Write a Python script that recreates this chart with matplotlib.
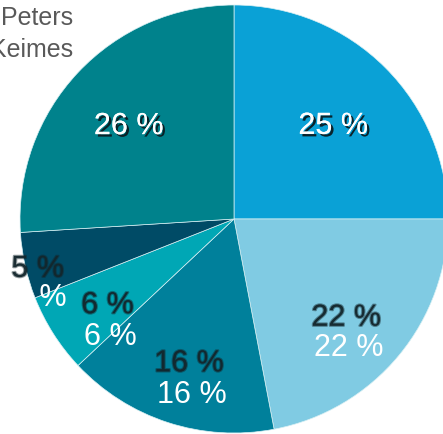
import numpy as np
import matplotlib
matplotlib.use("Agg")
import matplotlib.pyplot as plt
import matplotlib.patheffects as pe

plt.rcParams['font.family'] = ['Liberation Sans', 'DejaVu Sans']

# datos del gráfico (sentido horario desde arriba)
valores = [25, 22, 16, 6, 5, 26]
etiquetas = [f"{v} %" for v in valores]
colores = ["#0AA1D6", "#80CBE3", "#00809B", "#00A7B5", "#004B66", "#00828C"]
titulo = ["Peters", "Keimes"]

fig = plt.figure(figsize=(4.43, 4.35), dpi=100)
ax = fig.add_axes([0, 0, 1, 1])

cx, cy, R = 234, 215, 214
wedges, _ = ax.pie(valores, colors=colores, startangle=90, counterclock=False,
                   center=(cx, cy), radius=R, frame=True,
                   wedgeprops=dict(edgecolor="#d8f0f4", linewidth=0.5))
ax.set_xlim(0, 443)
ax.set_ylim(0, 435)
ax.set_aspect("equal")
ax.axis("off")

# radio de la etiqueta (fracción de R) y caída del texto blanco en px
radios = [0.655, 0.68, 0.68, 0.70, 0.94, 0.675]
caida = [0, 29, 31, 31, 28, 0]
sombra = [pe.withSimplePatchShadow(offset=(1.8, -1.8), shadow_rgbFace="#0b1c22", alpha=0.95), pe.Normal()]

for w, txt, r, d in zip(wedges, etiquetas, radios, caida):
    ang = np.deg2rad((w.theta1 + w.theta2) / 2)
    x = cx + r * R * np.cos(ang)
    y = cy + r * R * np.sin(ang) - 14
    if d == 0:
        ax.text(x, y, txt, color="white", fontsize=22, ha="center", va="baseline",
                path_effects=sombra)
    else:
        ax.text(x, y, txt, color="#13262c", alpha=0.9, fontsize=22, ha="center", va="baseline",
                path_effects=[pe.withStroke(linewidth=1.6, foreground="#13262c", alpha=0.45)])
        ax.text(x + 3, y - d, txt, color="white", fontsize=22, ha="center", va="baseline")

# título recortado arriba a la izquierda
for linea, base in zip(titulo, [25, 57]):
    ax.text(73, 435 - base, linea, color="#595959", fontsize=18, ha="right", va="baseline")

fig.savefig("out.png", dpi=100)
